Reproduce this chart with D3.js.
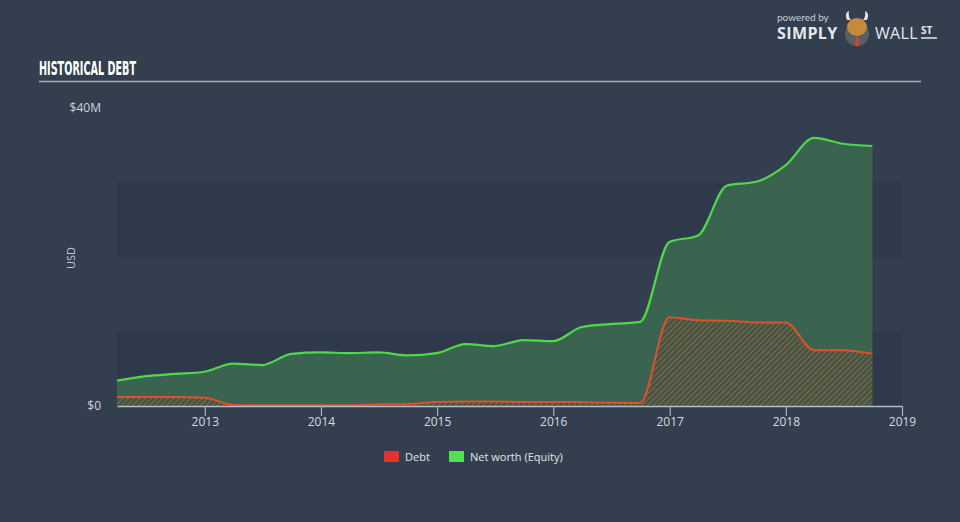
<!DOCTYPE html>
<html><head><meta charset="utf-8">
<script src="https://cdn.jsdelivr.net/npm/d3@7"></script>
<style>
html,body{margin:0;padding:0;background:#333f4f;}
svg{display:block;}
</style></head>
<body>
<svg id="chart" width="960" height="522"></svg>
<script>
// ---- data ----
const dates = ["2012-03-31","2012-06-30","2012-09-30","2012-12-31","2013-03-31","2013-06-30","2013-09-30","2013-12-31","2014-03-31","2014-06-30","2014-09-30","2014-12-31","2015-03-31","2015-06-30","2015-09-30","2015-12-31","2016-03-31","2016-06-30","2016-09-30","2016-12-31","2017-03-31","2017-06-30","2017-09-30","2017-12-31","2018-03-31","2018-06-30","2018-09-30"];
const debt = [1.2,1.2,1.2,1.1,0.15,0.1,0.1,0.1,0.1,0.2,0.25,0.55,0.6,0.6,0.55,0.55,0.5,0.45,0.4,11.9,11.5,11.45,11.2,11.2,7.5,7.5,7.0];
const equity = [3.4,4.0,4.3,4.6,5.7,5.5,7.0,7.2,7.1,7.2,6.8,7.1,8.3,8.05,8.85,8.7,10.6,11.0,11.3,22.0,22.9,29.6,30.1,32.3,36.0,35.2,34.9];
const yTicks = [0,40];
const yTickLabels = ["$0","$40M"];
const xTickYears = [2013,2014,2015,2016,2017,2018,2019];
const legendItems = [{label:"Debt",color:"#e8302c"},{label:"Net worth (Equity)",color:"#4fe34f"}];

const svg = d3.select("#chart");
const parse = d3.timeParse("%Y-%m-%d");
const data = dates.map((d,i)=>({date:parse(d),debt:debt[i],equity:equity[i]}));

const x = d3.scaleTime().domain([parse("2012-03-31"), new Date(2019,0,1)]).range([117,902]);
const y = d3.scaleLinear().domain([0,40]).range([406,108]);

// title
svg.append("text").attr("x",39).attr("y",75)
  .attr("font-family","'Liberation Sans Narrow','DejaVu Sans Condensed',sans-serif")
  .attr("font-weight","bold").attr("font-size",19).attr("fill","#ffffff")
  .attr("textLength",97).attr("lengthAdjust","spacingAndGlyphs").text("HISTORICAL DEBT");
svg.append("line").attr("x1",39).attr("x2",921).attr("y1",81.5).attr("y2",81.5)
  .attr("stroke","#a9afb8").attr("stroke-width",1.5);

// logo
const logo = svg.append("g");
logo.append("text").attr("x",777).attr("y",21).attr("font-family","Lato, 'Open Sans', sans-serif")
  .attr("font-size",10).attr("fill","#c9ced6").text("powered by");
logo.append("text").attr("x",777).attr("y",39).attr("font-family","'Open Sans', Lato, sans-serif")
  .attr("font-weight","bold").attr("font-size",16).attr("fill","#e6e8ec").attr("letter-spacing","0.4").text("SIMPLY");
logo.append("circle").attr("cx",857).attr("cy",34).attr("r",12).attr("fill","#5a5f66");
logo.append("ellipse").attr("cx",857).attr("cy",27).attr("rx",10).attr("ry",9).attr("fill","#c58a3a");
logo.append("path").attr("d","M847,20 Q844,13 849,11 Q848,17 851,20 Z M867,20 Q870,13 865,11 Q866,17 863,20 Z").attr("fill","#e8e2d0");
logo.append("path").attr("d","M856,37 L858,37 L859,45 L857,47 L855,45 Z").attr("fill","#d9432a");
logo.append("text").attr("x",875).attr("y",39).attr("font-family","'Open Sans', Lato, sans-serif")
  .attr("font-size",16).attr("fill","#e6e8ec").attr("letter-spacing","0.3").text("WALL");
logo.append("text").attr("x",921).attr("y",34).attr("font-family","'Open Sans', Lato, sans-serif")
  .attr("font-weight","bold").attr("font-size",10).attr("fill","#e6e8ec").text("ST");
logo.append("line").attr("x1",921).attr("x2",937).attr("y1",38).attr("y2",38).attr("stroke","#e6e8ec").attr("stroke-width",1.5);

// bands
const bandDefs = [[0,10],[20,30]];
svg.selectAll("rect.band").data(bandDefs).enter().append("rect")
  .attr("x",x.range()[0]).attr("width",x.range()[1]-x.range()[0])
  .attr("y",d=>y(d[1])).attr("height",d=>y(d[0])-y(d[1]))
  .attr("fill","#2e3a4a");

// hatch pattern
const defs = svg.append("defs");
const pat = defs.append("pattern").attr("id","hatch").attr("patternUnits","userSpaceOnUse")
  .attr("width",4).attr("height",4).attr("patternTransform","rotate(45)");
pat.append("rect").attr("width",4).attr("height",4).attr("fill","rgba(70,70,55,0.35)");
pat.append("line").attr("x1",0).attr("y1",0).attr("x2",0).attr("y2",4)
  .attr("stroke","#d8643a").attr("stroke-width",1.6).attr("stroke-opacity",0.75);

const curve = d3.curveMonotoneX;
// equity area
svg.append("path").datum(data)
  .attr("d",d3.area().x(d=>x(d.date)).y0(y(0)).y1(d=>y(d.equity)).curve(curve))
  .attr("fill","#3a6350");
svg.append("path").datum(data)
  .attr("d",d3.line().x(d=>x(d.date)).y(d=>y(d.equity)).curve(curve))
  .attr("fill","none").attr("stroke","#4fd94a").attr("stroke-width",2.2);

// debt area
svg.append("path").datum(data)
  .attr("d",d3.area().x(d=>x(d.date)).y0(y(0)).y1(d=>y(d.debt)).curve(curve))
  .attr("fill","url(#hatch)");
svg.append("path").datum(data)
  .attr("d",d3.line().x(d=>x(d.date)).y(d=>y(d.debt)).curve(curve))
  .attr("fill","none").attr("stroke","#e0502c").attr("stroke-width",2);

// x axis
const xAxis = d3.axisBottom(x)
  .tickValues(xTickYears.map(yr=>new Date(yr,0,1)))
  .tickFormat(d3.timeFormat("%Y")).tickSize(10).tickSizeOuter(0);
const gx = svg.append("g").attr("transform","translate(0,406)").call(xAxis);
gx.select(".domain").attr("stroke","#b5bdc8").attr("stroke-width",1.5);
gx.selectAll(".tick line").attr("stroke","#a8b0bc").attr("stroke-width",1.2);
gx.selectAll(".tick text").attr("fill","#d6dae0").attr("font-size",12)
  .attr("font-family","'Open Sans', Lato, sans-serif").attr("dy","0.9em").attr("y",9);

// y labels
svg.selectAll("text.ylab").data(yTicks).enter().append("text")
  .attr("x",101).attr("y",d=>y(d)+4).attr("text-anchor","end")
  .attr("font-family","'Open Sans', Lato, sans-serif").attr("font-size",12)
  .attr("fill","#d0d4da").text((d,i)=>yTickLabels[i]);

svg.append("text").attr("transform","translate(75,258) rotate(-90)")
  .attr("text-anchor","middle").attr("font-family","'Open Sans', Lato, sans-serif")
  .attr("font-size",11).attr("fill","#c6cbd2").text("USD");

// legend
const lg = svg.append("g").attr("transform","translate(384,451)");
const lx = [0,65];
lg.selectAll("rect").data(legendItems).enter().append("rect")
  .attr("x",(d,i)=>lx[i]).attr("y",0).attr("width",15).attr("height",11).attr("fill",d=>d.color);
lg.selectAll("text").data(legendItems).enter().append("text")
  .attr("x",(d,i)=>lx[i]+21).attr("y",10).attr("font-family","'Open Sans', Lato, sans-serif")
  .attr("font-size",11).attr("fill","#e2e5ea").text(d=>d.label);
</script>
</body></html>
